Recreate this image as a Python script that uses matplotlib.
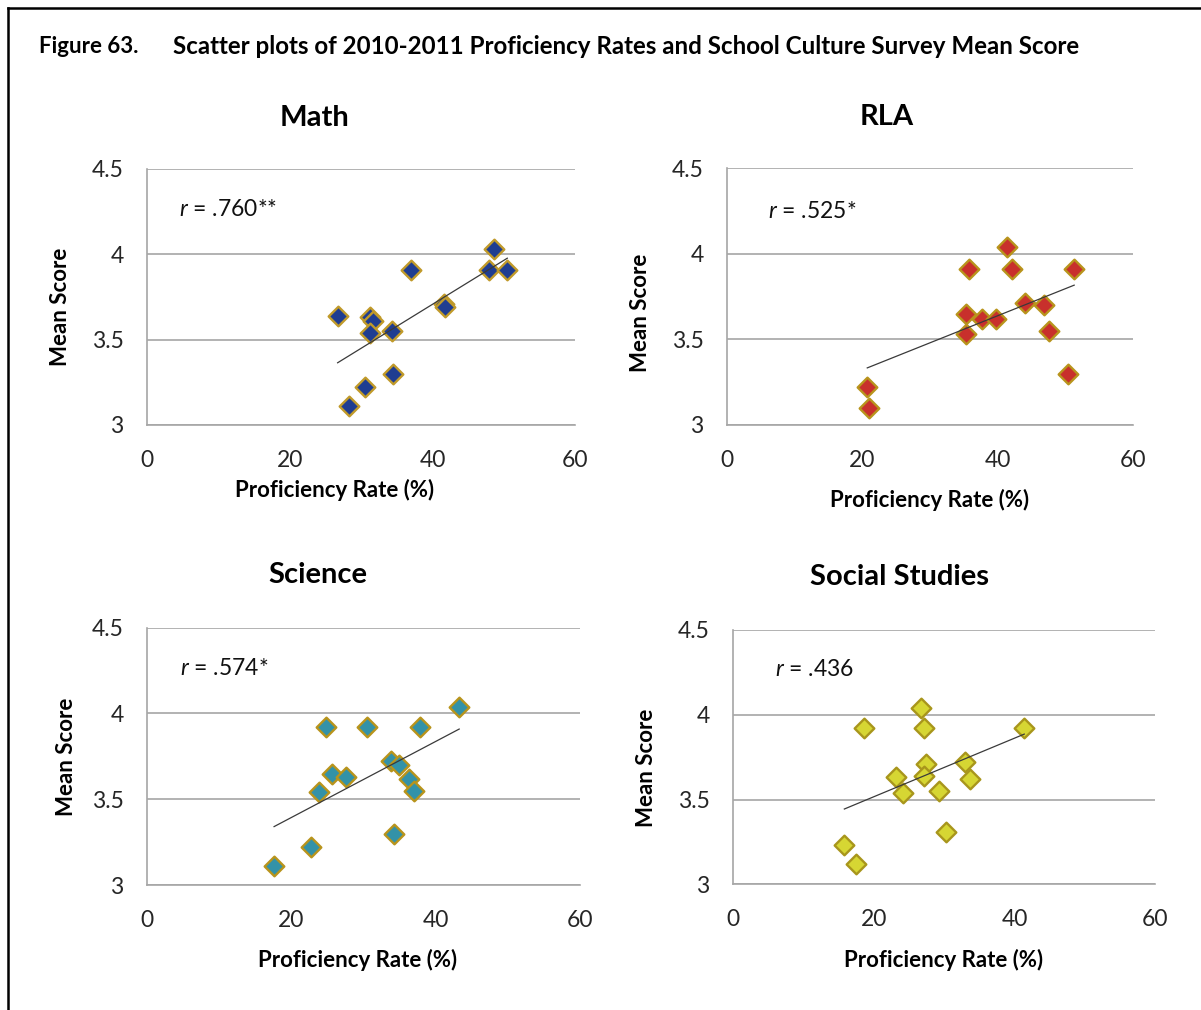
import numpy as np
import matplotlib
matplotlib.use("Agg")
import matplotlib.pyplot as plt
from matplotlib.lines import Line2D

# ---- data ----
math_x = [26.7, 31.2, 31.7, 31.3, 34.3, 37.0, 41.6, 41.7, 48.6, 47.9, 50.5, 34.5, 30.5, 28.3]
math_y = [3.64, 3.63, 3.61, 3.54, 3.55, 3.91, 3.71, 3.69, 4.03, 3.91, 3.91, 3.30, 3.22, 3.11]

rla_x = [20.7, 21.0, 35.3, 35.3, 35.8, 37.6, 39.8, 41.4, 42.1, 44.1, 46.8, 47.6, 50.4, 51.3]
rla_y = [3.22, 3.10, 3.65, 3.53, 3.91, 3.62, 3.62, 4.04, 3.91, 3.71, 3.70, 3.55, 3.30, 3.91]

sci_x = [17.6, 22.7, 23.9, 24.8, 25.7, 27.6, 30.5, 33.9, 35.0, 34.3, 36.3, 37.0, 37.9, 43.3]
sci_y = [3.11, 3.22, 3.54, 3.92, 3.65, 3.63, 3.92, 3.72, 3.70, 3.30, 3.62, 3.55, 3.92, 4.04]

soc_x = [15.8, 17.4, 18.6, 23.2, 24.1, 26.7, 27.1, 27.4, 27.1, 29.3, 30.2, 32.9, 33.7, 41.4]
soc_y = [3.23, 3.12, 3.92, 3.63, 3.54, 4.04, 3.92, 3.71, 3.64, 3.55, 3.31, 3.72, 3.62, 3.92]

titles = ["Math", "RLA", "Science", "Social Studies"]
r_labels = ["$r$ = .760**", "$r$ = .525*", "$r$ = .574*", "$r$ = .436"]
x_ticks = [0, 20, 40, 60]
y_ticks = [3, 3.5, 4, 4.5]
y_ticklabels = ["3", "3.5", "4", "4.5"]

# ---- style ----
plt.rcParams["font.family"] = ["Lato", "DejaVu Sans"]
plt.rcParams["mathtext.fontset"] = "custom"
plt.rcParams["mathtext.it"] = "Lato:italic"
plt.rcParams["mathtext.rm"] = "Lato"

face_colors = ["#1F3D91", "#C8302C", "#3392A8", "#D6D633"]
edge_colors = ["#C09A2A", "#B8941C", "#B8941C", "#A8961C"]
grid_col = "#A6A6A6"

W, H = 1201, 1010
fig = plt.figure(figsize=(W / 100, H / 100), dpi=100)

# axes boxes in pixels: left, right, top, bottom
boxes = [(147.3, 575, 169, 425), (727.3, 1133, 168.3, 425),
         (147.3, 579.5, 627.7, 885), (733.3, 1155, 630, 884.3)]
title_pos = [(0.392, 1.199), (0.392, 1.20), (0.395, 1.205), (0.395, 1.21)]
xlabel_pos = [(0.438, -0.254), (0.498, -0.292), (0.487, -0.291), (0.499, -0.298)]
ylabel_pos = [(-0.204, 0.461), (-0.213, 0.436), (-0.188, 0.497), (-0.207, 0.457)]
rtext_pos = [(0.075, 0.84), (0.10, 0.83), (0.076, 0.842), (0.099, 0.845)]

datasets = [(math_x, math_y), (rla_x, rla_y), (sci_x, sci_y), (soc_x, soc_y)]

for i, (xs, ys) in enumerate(datasets):
    l, r, t, b = boxes[i]
    ax = fig.add_axes([l / W, 1 - b / H, (r - l) / W, (b - t) / H])
    ax.set_xlim(0, 60)
    ax.set_ylim(3, 4.5)

    ax.scatter(xs, ys, marker="D", s=100, facecolor=face_colors[i],
               edgecolor=edge_colors[i], linewidth=1.7, zorder=3)

    # linear trendline over the data range
    k, c = np.polyfit(xs, ys, 1)
    xx = np.array([min(xs), max(xs)])
    ax.plot(xx, k * xx + c, color="#3A3A3A", linewidth=0.9, zorder=4)

    ax.set_xticks(x_ticks)
    ax.set_yticks(y_ticks)
    ax.set_yticklabels(y_ticklabels)
    ax.tick_params(length=0, labelsize=16.5, labelcolor="#262626")
    ax.tick_params(axis="y", pad=17)
    ax.tick_params(axis="x", pad=18)

    ax.yaxis.grid(True, color=grid_col, linewidth=1.2)
    ax.set_axisbelow(True)
    for side in ["top", "right"]:
        ax.spines[side].set_visible(False)
    for side in ["left", "bottom"]:
        ax.spines[side].set_color(grid_col)
        ax.spines[side].set_linewidth(1.2)

    ax.set_title(titles[i], fontsize=21, fontweight="bold", x=title_pos[i][0],
                 y=title_pos[i][1], va="center", pad=0)
    ax.set_xlabel("Proficiency Rate (%)", fontsize=16, fontweight="bold", va="center")
    ax.xaxis.set_label_coords(*xlabel_pos[i])
    ax.set_ylabel("Mean Score", fontsize=16, fontweight="bold", va="center")
    ax.yaxis.set_label_coords(*ylabel_pos[i])

    ax.text(rtext_pos[i][0], rtext_pos[i][1], r_labels[i], transform=ax.transAxes,
            fontsize=16.5, ha="left", va="center", color="#111111")

# figure caption
fig.text(39 / W, 1 - 46.7 / H, "Figure 63.", fontsize=16, fontweight="bold",
         ha="left", va="center")
fig.text(172.7 / W, 1 - 46.7 / H,
         "Scatter plots of 2010-2011 Proficiency Rates and School Culture Survey Mean Score",
         fontsize=17.4, fontweight="bold", ha="left", va="center")

# page frame (top and left edges)
fig.add_artist(Line2D([8.3 / W, 1], [1 - 8 / H, 1 - 8 / H], color="black", linewidth=1.8))
fig.add_artist(Line2D([8.3 / W, 8.3 / W], [0, 1 - 8 / H], color="black", linewidth=1.8))

fig.savefig("out.png", dpi=100)
